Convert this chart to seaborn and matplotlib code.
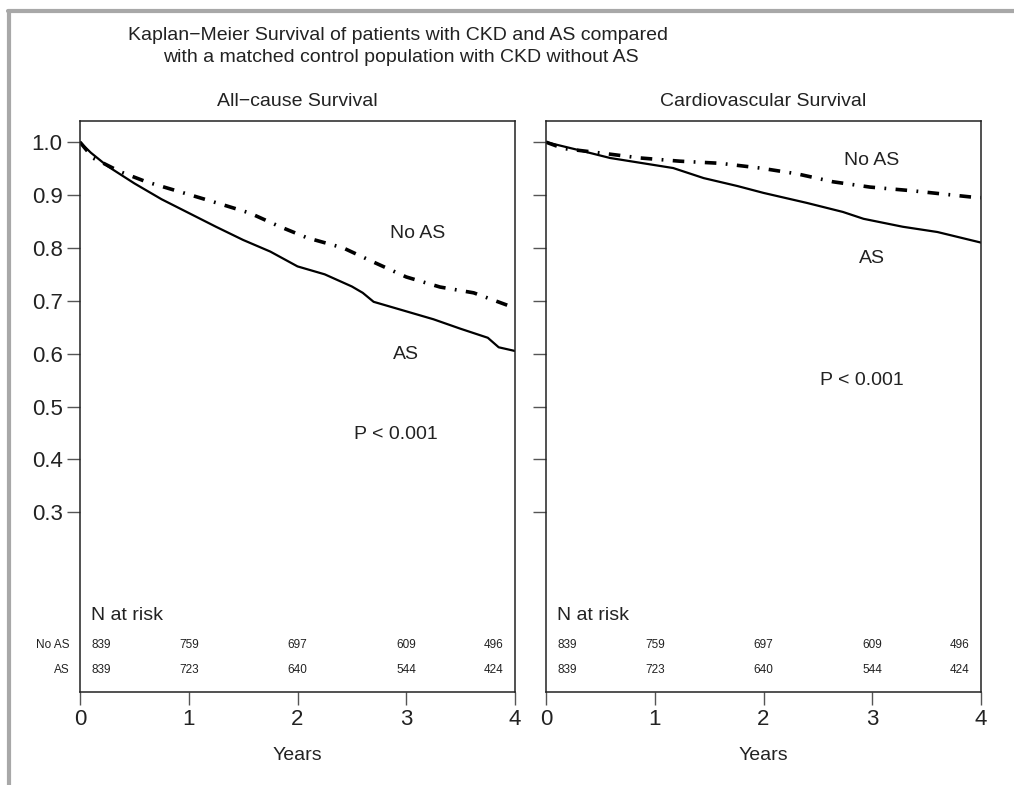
import numpy as np
import pandas as pd
import matplotlib
matplotlib.use("Agg")
import matplotlib.pyplot as plt
import seaborn as sns

# survival curves (years, survival)
ac_as_t = [0, 0.1, 0.25, 0.5, 0.75, 1.0, 1.25, 1.5, 1.75, 2.0, 2.25, 2.5, 2.6, 2.7, 3.0, 3.25, 3.5, 3.75, 3.85, 4.0]
ac_as_s = [1.0, 0.98, 0.955, 0.922, 0.892, 0.866, 0.84, 0.815, 0.793, 0.765, 0.75, 0.727, 0.715, 0.698, 0.68, 0.665, 0.647, 0.63, 0.612, 0.605]
ac_noas_t = [0, 0.12, 0.37, 0.61, 0.92, 1.26, 1.56, 1.84, 2.09, 2.42, 2.69, 3.0, 3.31, 3.62, 3.95, 4.0]
ac_noas_s = [1.0, 0.97, 0.944, 0.925, 0.906, 0.885, 0.866, 0.84, 0.819, 0.80, 0.774, 0.745, 0.726, 0.715, 0.69, 0.685]

cv_as_t = [0, 0.3, 0.59, 1.17, 1.45, 1.76, 2.0, 2.4, 2.73, 2.92, 3.28, 3.6, 4.0]
cv_as_s = [1.0, 0.985, 0.970, 0.951, 0.932, 0.917, 0.904, 0.885, 0.868, 0.855, 0.84, 0.83, 0.81]
cv_noas_t = [0, 0.16, 0.52, 0.87, 1.23, 1.6, 1.97, 2.31, 2.64, 2.98, 3.37, 3.92, 4.0]
cv_noas_s = [1.0, 0.988, 0.979, 0.97, 0.964, 0.96, 0.951, 0.94, 0.925, 0.915, 0.908, 0.896, 0.895]

# numbers at risk
risk_x = [0.2, 1, 2, 3, 3.8]
risk_noas = [839, 759, 697, 609, 496]
risk_as = [839, 723, 640, 544, 424]

yticks = [0.3, 0.4, 0.5, 0.6, 0.7, 0.8, 0.9, 1.0]
xticks = [0, 1, 2, 3, 4]

sns.set_style("ticks")
plt.rcParams['font.family'] = ['Liberation Sans', 'DejaVu Sans']

fig = plt.figure(figsize=(10.14, 7.85), dpi=100)
ax1 = fig.add_axes([80/1014, 1-692/785, 435/1014, 571/785])
ax2 = fig.add_axes([546/1014, 1-692/785, 435/1014, 571/785])

dashdot = (0, (3.2, 2.6, 0.5, 2.6))
txt = "#222222"
panels = [
    (ax1, ac_as_t, ac_as_s, ac_noas_t, ac_noas_s, "All\u2212cause Survival",
     (3.1, 0.828), (3.0, 0.598), (2.9, 0.447)),
    (ax2, cv_as_t, cv_as_s, cv_noas_t, cv_noas_s, "Cardiovascular Survival",
     (2.99, 0.966), (3.0, 0.779), (2.9, 0.549)),
]

for ax, ta, sa, tn, sn, title, pos_noas, pos_as, pos_p in panels:
    sns.lineplot(x=ta, y=sa, ax=ax, color="black", lw=1.6, estimator=None)
    sns.lineplot(x=tn, y=sn, ax=ax, color="black", lw=2.6, estimator=None,
                 linestyle=dashdot)
    ax.set_xlim(0, 4)
    ax.set_ylim(-0.04, 1.04)
    ax.set_xticks(xticks)
    ax.set_yticks(yticks)
    ax.set_xticklabels([str(v) for v in xticks], fontsize=16, color=txt)
    if ax is ax1:
        ax.set_yticklabels([f"{v:.1f}" for v in yticks], fontsize=16, color=txt)
    else:
        ax.set_yticklabels([])
    ax.tick_params(length=9.5, width=1.0, color="#555555", pad=3)
    for sp in ax.spines.values():
        sp.set_visible(True)
        sp.set_linewidth(1.1)
        sp.set_color(txt)
    ax.set_xlabel("Years", fontsize=14, labelpad=12, color=txt)
    ax.set_ylabel("")
    ax.text(0.5, 1 + 20/571, title, transform=ax.transAxes, ha="center",
            va="center", fontsize=14, color=txt)
    ax.text(*pos_noas, "No AS", ha="center", va="center", fontsize=14, color=txt)
    ax.text(*pos_as, "AS", ha="center", va="center", fontsize=14, color=txt)
    ax.text(*pos_p, "P < 0.001", ha="center", va="center", fontsize=14, color=txt)
    ax.text(0.1, 0.104, "N at risk", ha="left", va="center", fontsize=14, color=txt)
    for x, a, b in zip(risk_x, risk_noas, risk_as):
        ax.text(x, 0.049, str(a), ha="center", va="center", fontsize=8.5, color=txt)
        ax.text(x, 0.002, str(b), ha="center", va="center", fontsize=8.5, color=txt)

ax1.text(-0.1, 0.049, "No AS", ha="right", va="center", fontsize=8.5, color=txt, clip_on=False)
ax1.text(-0.1, 0.002, "AS", ha="right", va="center", fontsize=8.5, color=txt, clip_on=False)

fig.text(398/1014, 1-35/785, "Kaplan\u2212Meier Survival of patients with CKD and AS compared",
         ha="center", va="center", fontsize=14, color=txt)
fig.text(401/1014, 1-58/785, "with a matched control population with CKD without AS",
         ha="center", va="center", fontsize=14, color=txt)

# grey frame on top and left
fig.add_artist(plt.Line2D([8/1014, 1], [1-11/785, 1-11/785], color="#a8a8a8", lw=3))
fig.add_artist(plt.Line2D([9/1014, 9/1014], [0, 1-11/785], color="#a8a8a8", lw=3))

fig.savefig("out.png", dpi=100)
